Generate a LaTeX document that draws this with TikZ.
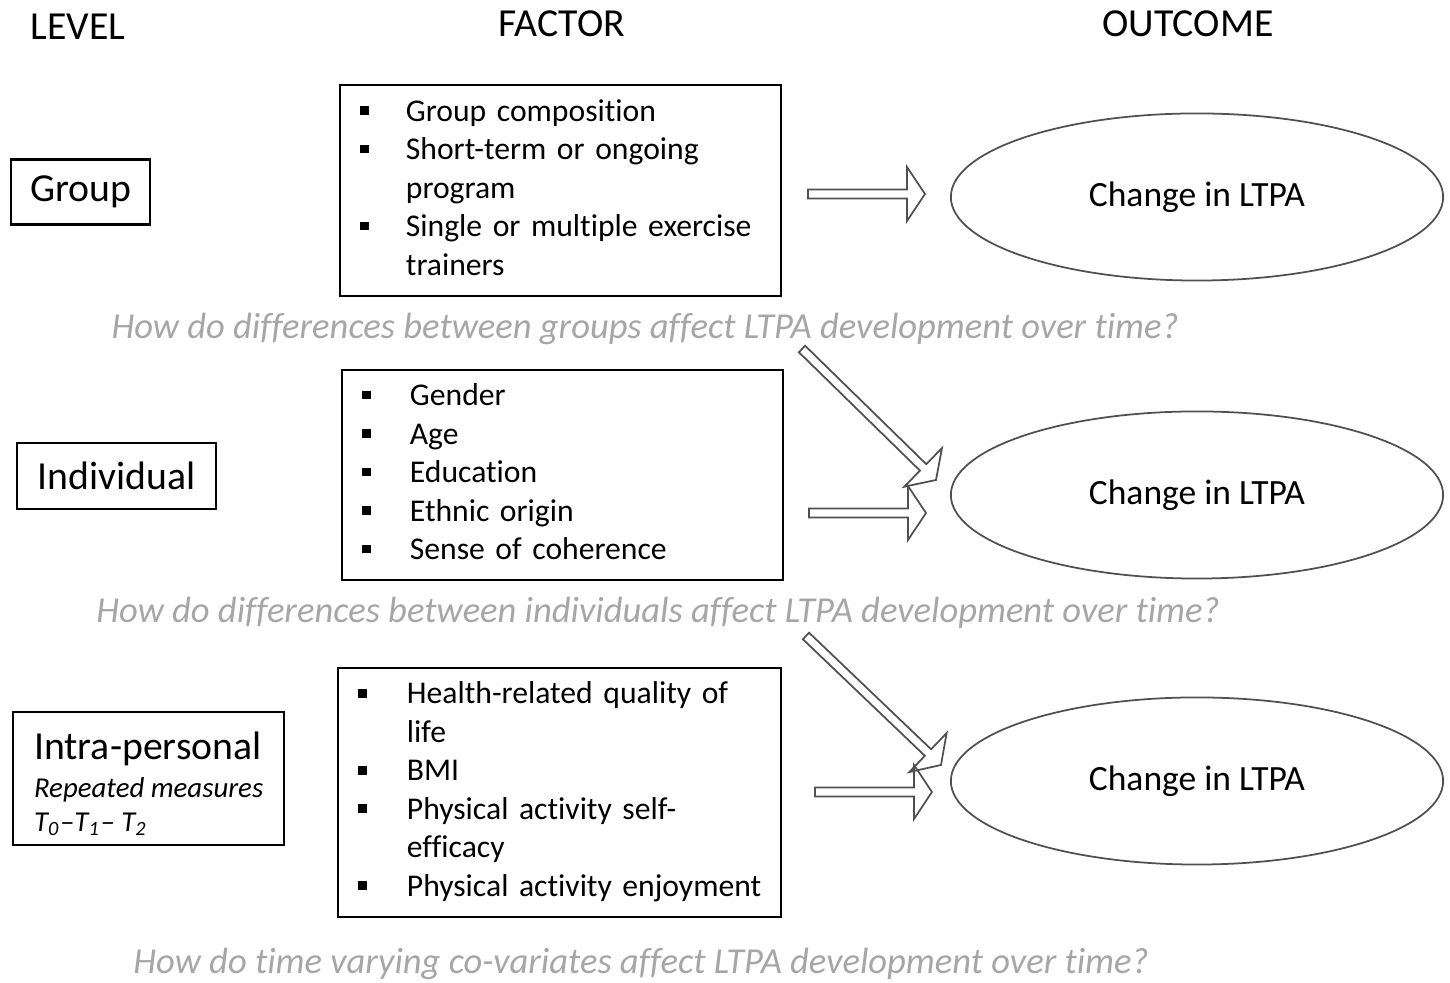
\documentclass[tikz,border=0pt]{standalone}
\usepackage{fontspec}
\setmainfont{Carlito}[Ligatures={TeX,NoCommon}]
\usetikzlibrary{calc, positioning, shapes.geometric}

\definecolor{qgray}{RGB}{166,166,166}
\definecolor{arrgray}{RGB}{80,80,80}
\newcommand{\blt}{\rule[0.2em]{2.5pt}{2.5pt}}
\newcommand{\smallit}{\fontsize{8.2}{9.6}\selectfont\itshape}

\begin{document}
\begin{tikzpicture}[
  x=0.01cm, y=-0.01cm,
  head/.style={font=\fontsize{11.3}{13}\selectfont},
  level/.style={draw, line width=0.6pt, font=\fontsize{11.3}{13}\selectfont, inner sep=0pt},
  factor/.style={draw, line width=0.6pt, inner xsep=0.2cm, inner ysep=0pt, align=left,
    font=\fontsize{9}{10.95}\selectfont},
  outcome/.style={draw=arrgray, ellipse, line width=0.5pt, minimum width=4.92cm, minimum height=1.67cm,
    font=\fontsize{10.1}{12}\selectfont},
  question/.style={text=qgray, font=\fontsize{10.4}{12}\selectfont\itshape},
  blockarrow/.style={draw=arrgray, line width=0.5pt, to path={
    ($(\tikztotarget)!0.18cm!(\tikztostart)$) coordinate (ba-e)
    ($(\tikztostart)!0.045cm!90:(\tikztotarget)$)
    -- ($(ba-e)!0.045cm!90:(\tikztotarget)$)
    -- ($(ba-e)!0.27cm!90:(\tikztotarget)$)
    -- (\tikztotarget)
    -- ($(ba-e)!0.27cm!-90:(\tikztotarget)$)
    -- ($(ba-e)!0.045cm!-90:(\tikztotarget)$)
    -- ($(\tikztostart)!0.045cm!-90:(\tikztotarget)$)
    -- cycle}}
]
\useasboundingbox (0,0) rectangle (1450,983);

% Headers
\node[head] (hLevel) at (78,27) {LEVEL};
\node[head] (hFactor) at (562,24) {FACTOR};
\node[head] (hOutcome) at (1188,24) {OUTCOME};

% Row 1: Group
\node[level, minimum width=1.39cm, minimum height=0.65cm] (Group) at (80.5,192) {Group};
\node[factor, minimum width=4.41cm, minimum height=2.11cm, text width=4.01cm] (FGroup) at (560.5,190.5) {%
  \begin{tabular}{@{}p{0.46cm}@{}l@{}}
  \blt & Group composition\\
  \blt & Short-term or ongoing\\
       & program\\
  \blt & Single or multiple exercise\\
       & trainers
  \end{tabular}};
\node[outcome] (OGroup) at (1197,197) {Change in LTPA};
\node[question] (QGroup) at (645,329) {How do differences between groups affect LTPA development over time?};

% Row 2: Individual
\node[level, minimum width=1.99cm, minimum height=0.66cm] (Indiv) at (116.5,476) {Individual};
\node[factor, minimum width=4.41cm, minimum height=2.10cm, text width=4.01cm] (FIndiv) at (562.5,475) {%
  \begin{tabular}{@{}p{0.48cm}@{}l@{}}
  \blt & Gender\\
  \blt & Age\\
  \blt & Education\\
  \blt & Ethnic origin\\
  \blt & Sense of coherence
  \end{tabular}};
\node[outcome] (OIndiv) at (1197,495) {Change in LTPA};
\node[question] (QIndiv) at (658,613) {How do differences between individuals affect LTPA development over time?};

% Row 3: Intra-personal
\node[level, minimum width=2.71cm, minimum height=1.33cm, align=left, inner xsep=0.17cm, anchor=west,
  font=\fontsize{11.3}{9.6}\selectfont] (Intra) at (12,778.5) {%
  \rule{0pt}{10.8pt}Intra-personal\\[1.2pt]
  {\smallit Repeated measures}\\
  {\smallit T\textsubscript{0}--T\textsubscript{1}-- T\textsubscript{2}}};
\node[factor, minimum width=4.41cm, minimum height=2.49cm, text width=4.03cm] (FIntra) at (559.5,792.5) {%
  \begin{tabular}{@{}p{0.49cm}@{}l@{}}
  \blt & Health-related quality of\\
       & life\\
  \blt & BMI\\
  \blt & Physical activity self-\\
       & efficacy\\
  \blt & Physical activity enjoyment
  \end{tabular}};
\node[outcome] (OIntra) at (1197,781) {Change in LTPA};
\node[question] (QIntra) at (641,964) {How do time varying co-variates affect LTPA development over time?};

% Arrow ends
\coordinate (a1s) at (808,194);  \coordinate (a1e) at (925,194);
\coordinate (a2s) at (809,513);  \coordinate (a2e) at (926,513);
\coordinate (a3s) at (815,792);  \coordinate (a3e) at (932,792);
\coordinate (d2s) at (802,349);  \coordinate (d2e) at (936,480);
\coordinate (d3s) at (806,636);  \coordinate (d3e) at (941,765);

\draw[blockarrow] (a1s) to (a1e);
\draw[blockarrow] (a2s) to (a2e);
\draw[blockarrow] (a3s) to (a3e);
\draw[blockarrow] (d2s) to (d2e);
\draw[blockarrow] (d3s) to (d3e);

\end{tikzpicture}
\end{document}
